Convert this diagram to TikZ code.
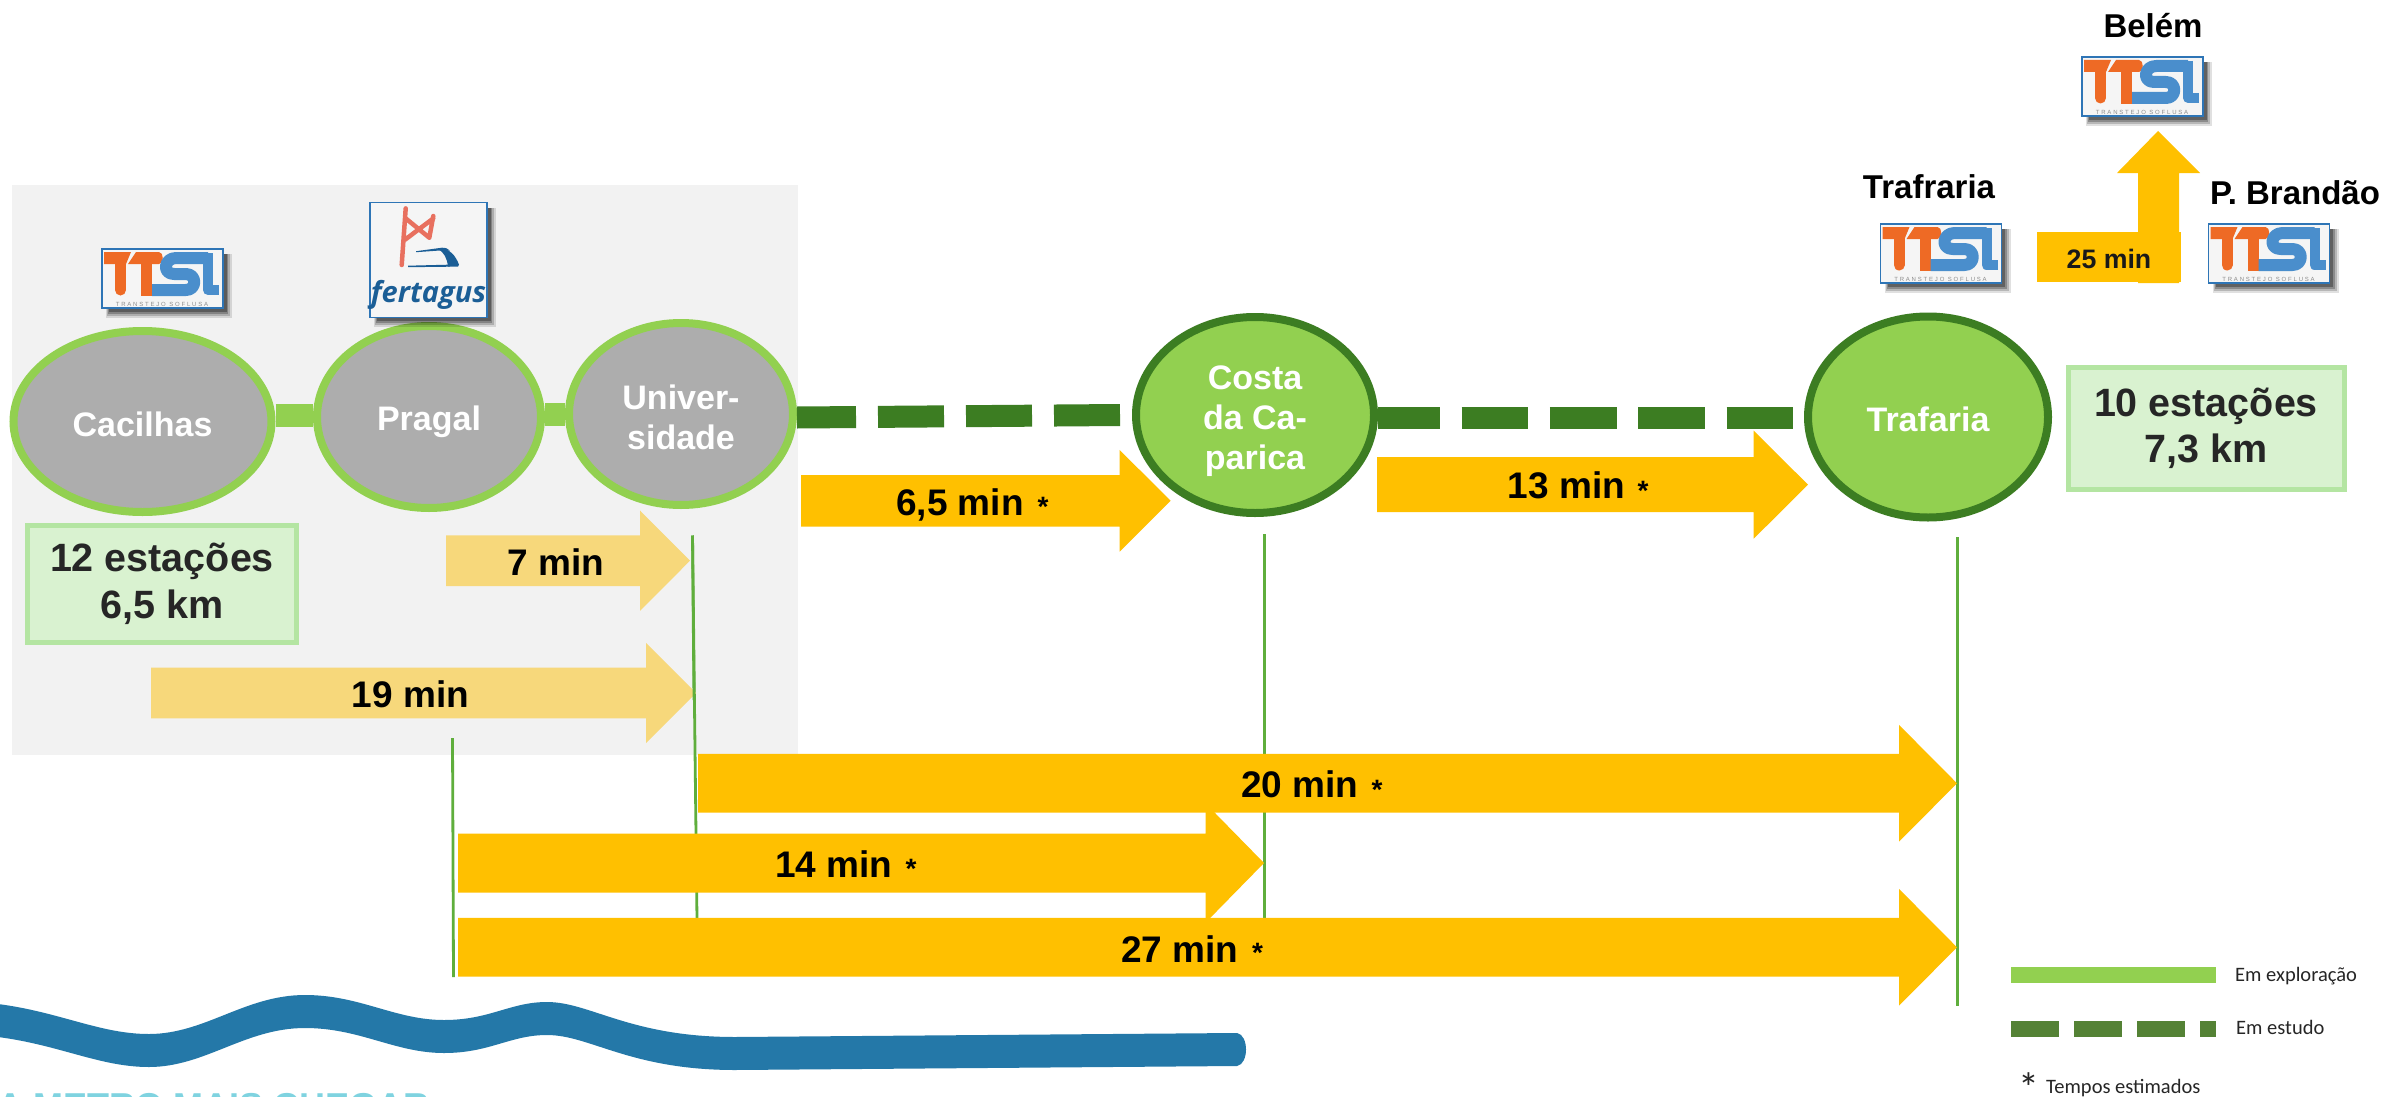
\documentclass[tikz,border=0pt]{standalone}
\usepackage{fontspec}
\setmainfont{Liberation Sans}
\newfontfamily\legendfont{Carlito}
\newfontfamily\logofont[LetterSpace=30]{Liberation Sans}
\newfontfamily\fertfont{Open Sans}
\usetikzlibrary{shapes.geometric}
\definecolor{lgreen}{HTML}{92D050}
\definecolor{dgreen}{HTML}{3C7D22}
\definecolor{legdash}{HTML}{548235}
\definecolor{stationgrey}{HTML}{ADADAD}
\definecolor{panelgrey}{HTML}{F2F2F2}
\definecolor{orangearrow}{HTML}{FFC000}
\definecolor{palearrow}{HTML}{F7D87B}
\definecolor{boxfill}{HTML}{D9F2D0}
\definecolor{boxedge}{HTML}{B4E5A2}
\definecolor{vline}{HTML}{5FAE3C}
\definecolor{wave}{HTML}{2478A8}
\definecolor{ttorange}{HTML}{EE6A25}
\definecolor{ttblue}{HTML}{4A8ECC}
\definecolor{logoedge}{HTML}{2E75B6}
\definecolor{fertred}{HTML}{E8705F}
\definecolor{fertblue}{HTML}{1B5E96}
\definecolor{teal}{HTML}{7FD3E0}
\newcommand{\fsz}[1]{\fontsize{#1}{#1}\selectfont}
\newcommand{\dn}[2]{\raisebox{-#1pt}[\height][\depth]{#2}}
\tikzset{
  station/.style={ellipse,inner sep=0pt,line width=8pt,align=center,text=white,font=\bfseries\fsz{34}},
  operating/.style={station,draw=lgreen,fill=stationgrey},
  studied/.style={station,draw=dgreen,fill=lgreen},
  linkon/.style={draw=lgreen,line width=23pt},
  linkoff/.style={draw=dgreen,line width=22pt},
  infobox/.style={draw=boxedge,fill=boxfill,line width=5pt,inner sep=0pt,align=center,text=black!85,font=\bfseries\fsz{39.5}},
  timelabel/.style={anchor=base,inner sep=0pt,font=\bfseries\fsz{37},text=black},
  starlabel/.style={inner sep=0pt,font=\bfseries\fsz{28},text=black},
  placelabel/.style={inner sep=0pt,font=\bfseries\fsz{33},text=black},
  tick/.style={draw=vline,line width=2.8pt},
  legendtext/.style={anchor=west,inner sep=0pt,font=\legendfont\fsz{20.5},text=black!85},
  logobox/.style={draw=logoedge,fill=white!96!black,line width=1.3pt,inner sep=0pt},
}
% block arrow: xstart, xhead, xtip, ytip, half body, half head, colour
\newcommand{\blockarrow}[7]{%
  \fill[#7] (#1,#4-#5) -- (#2,#4-#5) -- (#2,#4-#6) -- (#3,#4) -- (#2,#4+#6) -- (#2,#4+#5) -- (#1,#4+#5) -- cycle;}
% soft shadow for a logo: left, top, right, bottom
\newcommand{\softshadow}[4]{%
  \foreach \s/\o in {10/0.12,8/0.18,6/0.24,4/0.30}{%
    \fill[black,opacity=\o] (#1+9-\s*0.5,#2+5) rectangle (#3+\s*0.9,#4+\s);}}
% TTSL logo: name, left, top
\newcommand{\ttsl}[3]{%
  \softshadow{#2}{#3}{#2+121}{#3+59}
  \node[logobox,minimum width=121pt,minimum height=59pt] (#1) at (#2+60.5,#3+29.5) {};
  \begin{scope}[shift={(#2,#3)}]
    \fill[ttorange] (2,3) -- (29,3) -- (24,15) -- (2,15) -- cycle;
    \draw[ttorange,line width=11pt,line cap=round] (18.5,10) -- (18.5,41);
    \fill[ttorange] (34,3) -- (57,3) .. controls (62,3) and (62,15) .. (57,15) -- (26,15) -- cycle;
    \fill[ttorange] (39,10) rectangle (50,47);
    \draw[ttblue,line width=12pt,line join=round] (106,9) -- (74,9) .. controls (62,9) and (60,25) .. (72,25) -- (84,25) .. controls (95,25) and (95,41) .. (84,41) -- (50,41);
    \draw[ttblue,line width=10pt,line join=round] (106,4) -- (106,41) -- (117,41);
    \node[inner sep=0pt,font=\logofont\fsz{6},text=black!45] (#1text) at (60,55.5) {TRANSTEJO SOFLUSA};
  \end{scope}}
\begin{document}
\begin{tikzpicture}[x=1pt,y=-1pt]
\useasboundingbox (0,0) rectangle (2384,1097);
\fill[white] (0,0) rectangle (2384,1097);
% panel
\fill[panelgrey] (12,185) rectangle (798,755);

% wave
\fill[wave] (-2,1004) .. controls (60,1012) and (100,1034) .. (149,1034)
  .. controls (205,1034) and (245,995) .. (305,995)
  .. controls (360,995) and (395,1020) .. (444,1020)
  .. controls (490,1020) and (510,1002) .. (547,1002)
  .. controls (590,1002) and (630,1037) .. (735,1037)
  -- (1237,1033) .. controls (1249,1035) and (1249,1064) .. (1237,1066)
  -- (735,1070)
  .. controls (630,1070) and (590,1035) .. (547,1035)
  .. controls (510,1035) and (490,1053) .. (444,1053)
  .. controls (395,1053) and (360,1028) .. (305,1028)
  .. controls (245,1028) and (205,1067) .. (149,1067)
  .. controls (100,1067) and (60,1045) .. (-2,1037) -- cycle;
\node[anchor=base west,inner sep=0pt,font=\bfseries\fsz{36},text=teal] (cut) at (-3,1118) {A METRO MAIS CHEGAR};

% thin vertical markers
\draw[tick] (692.5,535.5) coordinate (tA) -- (697,920) coordinate (tAe);
\draw[tick] (452.5,738) coordinate (tB) -- (453.5,977) coordinate (tBe);
\draw[tick] (1264.5,534) coordinate (tC) -- (1264.5,920) coordinate (tCe);
\draw[tick] (1957.5,537) coordinate (tD) -- (1957.5,1006) coordinate (tDe);

% arrows
\blockarrow{446}{640}{690}{560.7}{25.3}{50.2}{palearrow}
\blockarrow{151}{646}{696}{693}{25.3}{50.2}{palearrow}
\draw[tick] (tA) -- (694,700);
\blockarrow{801}{1119.6}{1170.6}{500.8}{25.8}{50.9}{orangearrow}
\blockarrow{1377}{1753.7}{1808}{484.7}{27.5}{54}{orangearrow}
\blockarrow{458}{1205.7}{1264}{863}{29.5}{59.5}{orangearrow}
\blockarrow{698}{1899}{1957}{783.3}{29.4}{58.4}{orangearrow}
\blockarrow{458}{1899}{1957}{947.3}{29.4}{58.4}{orangearrow}
\fill[orangearrow] (2037,232) rectangle (2180.6,282);
\fill[orangearrow] (2138,283) -- (2138,173) -- (2117,173) -- (2158,131) -- (2200,173) -- (2179,173) -- (2179,283) -- cycle;

% stations
\node[operating,minimum width=258pt,minimum height=181pt] (cacilhas) at (142.5,421.5) {\dn{3}{Cacilhas}};
\node[operating,minimum width=224pt,minimum height=182pt] (pragal) at (429,417) {\dn{5}{Pragal}};
\node[operating,minimum width=224pt,minimum height=182pt] (univ) at (681,414) {\dn{3}{Univer-}\\[6pt]\dn{3}{sidade}};
\node[studied,minimum width=238pt,minimum height=196pt] (costa) at (1255,415) {\dn{6}{Costa}\\[6pt]\dn{6}{da Ca-}\\[6pt]\dn{6}{parica}};
\node[studied,minimum width=240pt,minimum height=201pt] (trafaria) at (1928,417) {\dn{2}{Trafaria}};

% links
\draw[linkon] ([yshift=6pt]cacilhas.east) -- ([yshift=1.5pt]pragal.west);
\draw[linkon] ([yshift=2.5pt]pragal.east) -- ([yshift=-0.5pt]univ.west);
\draw[linkoff,dash pattern=on 66pt off 22pt,dash phase=7pt] ([yshift=-3.5pt]univ.east) -- ([xshift=-11pt]costa.west);
\draw[linkoff,dash pattern=on 66.7pt off 21.6pt,dash phase=4.7pt] ([yshift=-3pt]costa.east) -- ([xshift=-10pt,yshift=-1pt]trafaria.west);

% info boxes
\node[infobox,minimum width=269pt,minimum height=117pt] (boxA) at (162,584) {12 estações\\[7pt]6,5 km};
\node[infobox,minimum width=276pt,minimum height=122pt] (boxB) at (2206,428.5) {10 estações\\[7pt]7,3 km};

% time labels
\node[timelabel] (t7) at (556,575) {7 min};
\node[timelabel] (t19) at (410.5,707) {19 min};
\node[timelabel] (t65) at (960,515) {6,5 min};
\node[starlabel] (s65) at (1043,507) {*};
\node[timelabel] (t13) at (1566.5,498) {13 min};
\node[starlabel] (s13) at (1643,491) {*};
\node[timelabel] (t20) at (1300,797) {20 min};
\node[starlabel] (s20) at (1377,790) {*};
\node[timelabel] (t14) at (834,877) {14 min};
\node[starlabel] (s14) at (911,869) {*};
\node[timelabel] (t27) at (1180,962) {27 min};
\node[starlabel] (s27) at (1257.5,953) {*};
\node[anchor=base,inner sep=0pt,font=\bfseries\fsz{26.7},text=black!90] (t25) at (2109,268) {25 min};

% place labels
\node[placelabel] (lBelem) at (2153,26) {Belém};
\node[placelabel] (lTraf) at (1929,187) {Trafraria};
\node[placelabel] (lPB) at (2295,193) {P. Brandão};

% logos
\ttsl{logoA}{102}{249}
\ttsl{logoB}{2082}{57}
\ttsl{logoC}{1880.5}{224}
\ttsl{logoD}{2208.5}{224}
\softshadow{370}{202.7}{487}{317.3}
\node[logobox,minimum width=117pt,minimum height=114.6pt] (fert) at (428.5,260) {};
\begin{scope}[shift={(370,202.7)}]
  \draw[fertred,line width=4.5pt,line cap=round,line join=round]
    (35.7,5.7) -- (31.7,62.3)
    (63.3,13.3) -- (59.3,35)
    (35.7,15.7) -- (59.3,35)
    (63.3,15.7) -- (35,37);
  \fill[fertblue] (46,48.5) -- (72,45) .. controls (76,45) and (78,46) .. (80,48) -- (67,48) -- (46,49.5) -- cycle;
  \fill[fertblue] (38,63) -- (78,62) -- (80,64) -- (38,64.5) -- cycle;
  \fill[fertblue] (68,46) .. controls (80,44.5) and (86,54) .. (89,62) -- (88,64) -- (78,64) .. controls (77,55) and (74,50) .. (68,46) -- cycle;
  \node[anchor=base,inner sep=0pt,font=\fertfont\bfseries\itshape\fsz{29},text=fertblue] (fertname) at (58.5,100) {fertagus};
\end{scope}

% legend
\fill[lgreen] (2011,967) coordinate (legA) rectangle (2216,983);
\foreach \a/\b in {2011/2059,2074/2122,2137/2185,2200/2216}{\fill[legdash] (\a,1021) rectangle (\b,1037);}
\node[legendtext] (legOn) at (2235,976) {Em exploração};
\node[legendtext] (legOff) at (2236,1027) {Em estudo};
\node[inner sep=0pt,font=\legendfont\fsz{42},text=black!85] (legStar) at (2029,1088) {*};
\node[legendtext] (legEst) at (2046,1088) {Tempos estimados};
\end{tikzpicture}
\end{document}
